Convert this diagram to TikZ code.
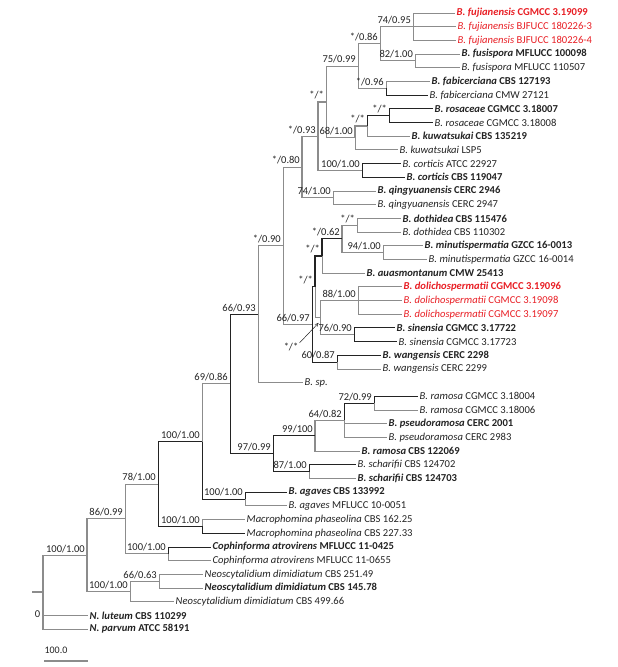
\documentclass[tikz,border=0pt]{standalone}
\usepackage{fontspec}
\setmainfont{Carlito}
\usetikzlibrary{arrows.meta}
\definecolor{redtx}{RGB}{232,30,36}
\definecolor{lgr}{RGB}{140,140,140}
\definecolor{dgr}{RGB}{35,35,35}
\tikzset{
  eg/.style={draw=lgr, line width=0.9pt},
  eb/.style={draw=dgr, line width=0.8pt},
  lf/.style={anchor=west, inner sep=1.5pt, font=\fontsize{10.6}{12}\selectfont, text=dgr},
  rd/.style={text=redtx},
  sup/.style={anchor=south east, inner sep=0pt, font=\fontsize{10.5}{12}\selectfont, text=dgr, xshift=-2pt, yshift=2.5pt},
}
\newcommand{\sx}[2]{\textit{#1} #2}
\newcommand{\bsx}[2]{\textbf{\textit{#1} #2}}
\begin{document}
\begin{tikzpicture}[x=1pt,y=-13.69pt]
\useasboundingbox (0,0.0504) rectangle (617,48.77);
% leaves
\node[lf,rd] (l1) at (455,1) {\bsx{B. fujianensis}{CGMCC 3.19099}};
\node[lf,rd] (l2) at (456,2) {\sx{B. fujianensis}{BJFUCC 180226-3}};
\node[lf,rd] (l3) at (456,3) {\sx{B. fujianensis}{BJFUCC 180226-4}};
\node[lf] (l4) at (460,4) {\bsx{B. fusispora}{MFLUCC 100098}};
\node[lf] (l5) at (460,5) {\sx{B. fusispora}{MFLUCC 110507}};
\node[lf] (l6) at (430,6) {\bsx{B. fabicerciana}{CBS 127193}};
\node[lf] (l7) at (428,7) {\sx{B. fabicerciana}{CMW 27121}};
\node[lf] (l8) at (433,8) {\bsx{B. rosaceae}{CGMCC 3.18007}};
\node[lf] (l9) at (433,9) {\sx{B. rosaceae}{CGMCC 3.18008}};
\node[lf] (l10) at (410,10) {\bsx{B. kuwatsukai}{CBS 135219}};
\node[lf] (l11) at (398,11) {\sx{B. kuwatsukai}{LSP5}};
\node[lf] (l12) at (401,12) {\sx{B. corticis}{ATCC 22927}};
\node[lf] (l13) at (405,13) {\bsx{B. corticis}{CBS 119047}};
\node[lf] (l14) at (376,14) {\bsx{B. qingyuanensis}{CERC 2946}};
\node[lf] (l15) at (376,15) {\sx{B. qingyuanensis}{CERC 2947}};
\node[lf] (l16) at (401,16) {\bsx{B. dothidea}{CBS 115476}};
\node[lf] (l17) at (401,17) {\sx{B. dothidea}{CBS 110302}};
\node[lf] (l18) at (423,18) {\bsx{B. minutispermatia}{GZCC 16-0013}};
\node[lf] (l19) at (427,19) {\sx{B. minutispermatia}{GZCC 16-0014}};
\node[lf] (l20) at (365,20) {\bsx{B. auasmontanum}{CMW 25413}};
\node[lf,rd] (l21) at (402,21) {\bsx{B. dolichospermatii}{CGMCC 3.19096}};
\node[lf,rd] (l22) at (402,22) {\sx{B. dolichospermatii}{CGMCC 3.19098}};
\node[lf,rd] (l23) at (402,23) {\sx{B. dolichospermatii}{CGMCC 3.19097}};
\node[lf] (l24) at (395,24) {\bsx{B. sinensia}{CGMCC 3.17722}};
\node[lf] (l25) at (397,25) {\sx{B. sinensia}{CGMCC 3.17723}};
\node[lf] (l26) at (381,26) {\bsx{B. wangensis}{CERC 2298}};
\node[lf] (l27) at (381,27) {\sx{B. wangensis}{CERC 2299}};
\node[lf] (l28) at (303,28) {\textit{B. sp.}};
\node[lf] (l29) at (418,29) {\sx{B. ramosa}{CGMCC 3.18004}};
\node[lf] (l30) at (418,30) {\sx{B. ramosa}{CGMCC 3.18006}};
\node[lf] (l31) at (387,31) {\bsx{B. pseudoramosa}{CERC 2001}};
\node[lf] (l32) at (387,32) {\sx{B. pseudoramosa}{CERC 2983}};
\node[lf] (l33) at (360,33) {\bsx{B. ramosa}{CBS 122069}};
\node[lf] (l34) at (356,34) {\sx{B. scharifii}{CBS 124702}};
\node[lf] (l35) at (356,35) {\bsx{B. scharifii}{CBS 124703}};
\node[lf] (l36) at (287,36) {\bsx{B. agaves}{CBS 133992}};
\node[lf] (l37) at (287,37) {\sx{B. agaves}{MFLUCC 10-0051}};
\node[lf] (l38) at (245,38) {\sx{Macrophomina phaseolina}{CBS 162.25}};
\node[lf] (l39) at (245,39) {\sx{Macrophomina phaseolina}{CBS 227.33}};
\node[lf] (l40) at (211,40) {\bsx{Cophinforma atrovirens}{MFLUCC 11-0425}};
\node[lf] (l41) at (211,41) {\sx{Cophinforma atrovirens}{MFLUCC 11-0655}};
\node[lf] (l42) at (203,42) {\sx{Neoscytalidium dimidiatum}{CBS 251.49}};
\node[lf] (l43) at (203,43) {\bsx{Neoscytalidium dimidiatum}{CBS 145.78}};
\node[lf] (l44) at (174,44) {\sx{Neoscytalidium dimidiatum}{CBS 499.66}};
\node[lf] (l45) at (88,45) {\bsx{N. luteum}{CBS 110299}};
\node[lf] (l46) at (88,46) {\bsx{N. parvum}{ATCC 58191}};
% internal nodes
\coordinate (nF) at (413,2);
\coordinate (nFu) at (415,4.5);
\coordinate (n086) at (380,3.25);
\coordinate (nFab) at (386,6.5);
\coordinate (n099) at (358,4.875);
\coordinate (nRos) at (389,8.5);
\coordinate (nK1) at (367,9.25);
\coordinate (n68) at (355,10.125);
\coordinate (nS1) at (326,7.5);
\coordinate (nCor) at (362,12.5);
\coordinate (n093) at (318,10);
\coordinate (nQ) at (333,14.5);
\coordinate (n080) at (302,12.25);
\coordinate (nDot) at (357,16.5);
\coordinate (nMin) at (383,18.5);
\coordinate (n062) at (342,17.5);
\coordinate (nZ) at (322,18.75);
\coordinate (nDol) at (358,22);
\coordinate (nSin) at (354,24.5);
\coordinate (nW) at (320,23.25);
\coordinate (nY) at (315,21);
\coordinate (nWan) at (337,26.5);
\coordinate (nG) at (312,23.75);
\coordinate (n090) at (283,18);
\coordinate (nH) at (258,23);
\coordinate (nR72) at (374,29.5);
\coordinate (nR64) at (344,30.75);
\coordinate (nR99) at (315,31.875);
\coordinate (nSch) at (309,34.5);
\coordinate (nR97) at (273,33.19);
\coordinate (nI) at (230,28.09);
\coordinate (nAg) at (245,36.5);
\coordinate (nBot) at (202,32.3);
\coordinate (nMac) at (202,38.5);
\coordinate (n78) at (158,35.4);
\coordinate (nCop) at (168,40.5);
\coordinate (n86) at (125,37.95);
\coordinate (n66) at (159,42.5);
\coordinate (nNeo) at (130,43.25);
\coordinate (nIn) at (87,40.6);
\coordinate (nRoot) at (43,43.3);
\coordinate (rs) at (32,43.3);
% edges
\draw[eg] (nF) |- (l1.west);
\draw[eg] (nF) |- (l2.west);
\draw[eg] (nF) |- (l3.west);
\draw[eg,line width=1pt] (nFu) |- (l4.west);
\draw[eg] (nFu) |- (l5.west);
\draw[eg] (n086) |- (nF);
\draw[eg] (n086) |- (nFu);
\draw[eg,line width=1pt] (nFab) |- (l6.west);
\draw[eb,line width=0.6pt] (nFab) |- (l7.west);
\draw[eg] (n099) |- (n086);
\draw[eg] (n099) |- (nFab);
\draw[eb] (nRos) |- (l8.west);
\draw[eb,line width=0.6pt] (nRos) |- (l9.west);
\draw[eb] (nK1) |- (nRos);
\draw[eg] (nK1) |- (l10.west);
\draw[eg,line width=1.2pt] (n68) |- (nK1);
\draw[eg] (n68) |- (l11.west);
\draw[eg] (nS1) |- (n099);
\draw[eg] (nS1) |- (n68);
\draw[eb] (nCor) |- (l12.west);
\draw[eb,line width=1pt] (nCor) |- (l13.west);
\draw[eg,line width=1.1pt] (n093) |- (nS1);
\draw[eg,line width=1.1pt] (n093) |- (nCor);
\draw[eg] (nQ) |- (l14.west);
\draw[eg] (nQ) |- (l15.west);
\draw[eg,line width=1.1pt] (n080) |- (n093);
\draw[eg,line width=1.1pt] (n080) |- (nQ);
\draw[eg,line width=1pt] (nDot) |- (l16.west);
\draw[eg] (nDot) |- (l17.west);
\draw[eg] (nMin) |- (l18.west);
\draw[eg] (nMin) |- (l19.west);
\draw[eg,line width=1.2pt] (n062) |- (nDot);
\draw[eg,line width=1.2pt] (n062) |- (nMin);
\draw[eb,line width=1.1pt] (nZ) |- (n062);
\draw[eg] (nZ) |- (l20.west);
\draw[eg] (nDol) |- (l21.west);
\draw[eg] (nDol) |- (l22.west);
\draw[eg] (nDol) |- (l23.west);
\draw[eb] (nSin) |- (l24.west);
\draw[eb] (nSin) |- (l25.west);
\draw[eg] (nW) |- (nDol);
\draw[eg] (nW) |- (nSin);
\draw[eb,line width=1.1pt] (nY) |- (nZ);
\draw[eg] (nY) |- (nW);
\draw[eb] (nWan) |- (l26.west);
\draw[eg] (nWan) |- (l27.west);
\draw[eb] (nG) |- (nY);
\draw[eb] (nG) |- (nWan);
\draw[eg] (n090) |- (n080);
\draw[eg] (n090) |- (nG);
\draw[eg] (nH) |- (n090);
\draw[eg] (nH) |- (l28.west);
\draw[eb] (nR72) |- (l29.west);
\draw[eg] (nR72) |- (l30.west);
\draw[eb] (nR64) |- (nR72);
\draw[eg,line width=1pt] (nR64) |- (l31.west);
\draw[eg] (nR64) |- (l32.west);
\draw[eg,line width=1.2pt] (nR99) |- (nR64);
\draw[eg,line width=1.2pt] (nR99) |- (l33.west);
\draw[eb] (nSch) |- (l34.west);
\draw[eg] (nSch) |- (l35.west);
\draw[eb] (nR97) |- (nR99);
\draw[eb] (nR97) |- (nSch);
\draw[eb] (nI) |- (nH);
\draw[eb] (nI) |- (nR97);
\draw[eb] (nAg) |- (l36.west);
\draw[eg] (nAg) |- (l37.west);
\draw[eg] (nBot) |- (nI);
\draw[eb] (nBot) |- (nAg);
\draw[eg] (nMac) |- (l38.west);
\draw[eb] (nMac) |- (l39.west);
\draw[eb] (n78) |- (nBot);
\draw[eb] (n78) |- (nMac);
\draw[eb] (nCop) |- (l40.west);
\draw[eg] (nCop) |- (l41.west);
\draw[eg] (n86) |- (n78);
\draw[eg] (n86) |- (nCop);
\draw[eg] (n66) |- (l42.west);
\draw[eg] (n66) |- (l43.west);
\draw[eg] (nNeo) |- (n66);
\draw[eg] (nNeo) |- (l44.west);
\draw[eg,line width=1.1pt] (nIn) |- (n86);
\draw[eg,line width=1.1pt] (nIn) |- (nNeo);
\draw[eg,line width=1.1pt] (nRoot) |- (nIn);
\draw[eg,line width=1.1pt] (nRoot) |- (l45.west);
\draw[eg,line width=1.1pt] (nRoot) |- (l46.west);
\draw[eg,line width=1.6pt] (rs) -- (nRoot);
% support values
\node[sup] (s1) at (nF) {74/0.95};
\node[sup] (s2) at (nFu) {82/1.00};
\node[sup] (s3) at (n086) {*/0.86};
\node[sup] (s4) at (nFab) {*/0.96};
\node[sup] (s5) at (n099) {75/0.99};
\node[sup] (s6) at (nRos) {*/*};
\node[sup] (s7) at (nK1) {*/*};
\node[sup] (s8) at (n68) {68/1.00};
\node[sup] (s9) at (nS1) {*/*};
\node[sup] (s10) at (nCor) {100/1.00};
\node[sup] (s11) at (n093) {*/0.93};
\node[sup] (s12) at (nQ) {74/1.00};
\node[sup] (s13) at (n080) {*/0.80};
\node[sup] (s14) at (nDot) {*/*};
\node[sup] (s15) at (nMin) {94/1.00};
\node[sup] (s16) at (n062) {*/0.62};
\node[sup] (s17) at (nZ) {*/*};
\node[sup] (s18) at (nDol) {88/1.00};
\node[sup] (s19) at (nSin) {76/0.90};
\node[sup] (s20) at (nY) {*/*};
\node[sup] (s21) at (nWan) {60/0.87};
\node[sup] (s22) at (nG) {66/0.97};
\node[sup] (s23) at (n090) {*/0.90};
\node[sup] (s24) at (nH) {66/0.93};
\node[sup] (s25) at (nR72) {72/0.99};
\node[sup] (s26) at (nR64) {64/0.82};
\node[sup] (s27) at (nR99) {99/100};
\node[sup] (s28) at (nSch) {87/1.00};
\node[sup] (s29) at (nR97) {97/0.99};
\node[sup] (s30) at (nI) {69/0.86};
\node[sup] (s31) at (nAg) {100/1.00};
\node[sup] (s32) at (nBot) {100/1.00};
\node[sup] (s33) at (nMac) {100/1.00};
\node[sup] (s34) at (n78) {78/1.00};
\node[sup] (s35) at (nCop) {100/1.00};
\node[sup] (s36) at (n86) {86/0.99};
\node[sup] (s37) at (n66) {66/0.63};
\node[sup] (s38) at (nNeo) {100/1.00};
\node[sup] (s39) at (nIn) {100/1.00};
\node[anchor=east, inner sep=0pt, font=\fontsize{10.5}{12}\selectfont, text=dgr] (s0) at (40.5,44.9) {0};
% arrow label
\node[inner sep=0pt, font=\fontsize{10.5}{12}\selectfont, text=dgr] (sA) at (291,25.4) {*/*};
\coordinate (tipW) at (318.5,23.64);
\draw[dgr, line width=0.5pt, -{Straight Barb[length=3pt,width=3pt]}] ([xshift=1pt]sA.north east) -- (tipW);
% scale bar
\coordinate (sb1) at (44,48.33);
\coordinate (sb2) at (88,48.33);
\draw[eg,line width=1.4pt] (sb1) -- (sb2);
\node[font=\fontsize{10}{12}\selectfont, text=dgr, inner sep=0pt] (sbl) at (56,47.55) {100.0};
\end{tikzpicture}
\end{document}
